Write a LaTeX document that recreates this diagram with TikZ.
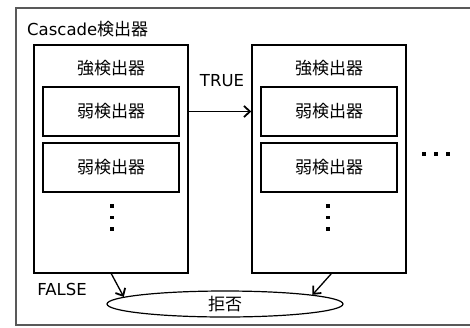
\documentclass[tikz,border=0pt]{standalone}
\usepackage{fontspec}
\setmainfont{DejaVu Sans}
\newfontfamily\jp{Noto Sans CJK JP}
\usetikzlibrary{arrows.meta,shapes.geometric}
\tikzset{
  txt/.style={font=\fontsize{16.5}{19}\selectfont},
  jtxt/.style={font=\fontsize{17}{20}\selectfont\jp},
  box/.style={draw=black, line width=1.4pt, rectangle, inner sep=0pt},
  strongbox/.style={box, minimum width=154pt, minimum height=228pt},
  weakbox/.style={box, minimum width=136pt, minimum height=49pt, jtxt},
  lbl/.style={inner sep=0pt, txt},
  jlbl/.style={inner sep=0pt, jtxt},
  vdot/.style={fill=black},
  conn/.style={draw=black, line width=1.3pt, -{Straight Barb[length=6pt,width=11pt,line width=1.8pt]}},
}
\begin{document}
\begin{tikzpicture}[x=1pt, y=-1pt]
  \useasboundingbox (0,0) rectangle (470,327);
  % outer cascade frame (runs off the right edge)
  \draw[line width=1.2pt, draw=black!65] (480,8) -- (16,8) -- (16,325) -- (480,325);
  \node[lbl, anchor=west] (title) at (27,29) {Cascade{\jp\fontsize{17}{20}\selectfont 検出器}};

  % first strong detector
  \node[strongbox] (s1) at (111,159) {};
  \node[jlbl] (s1t) at (111,68) {強検出器};
  \node[weakbox] (w11) at (111,111.5) {弱検出器};
  \node[weakbox] (w12) at (111,167.5) {弱検出器};
  \foreach \yy in {206,217.5,229} \fill[vdot] (112,\yy) ++(-1.7,-1.7) rectangle ++(3.4,3.4);

  % second strong detector
  \node[strongbox] (s2) at (329,159) {};
  \node[jlbl] (s2t) at (329,68) {強検出器};
  \node[weakbox] (w21) at (329,111.5) {弱検出器};
  \node[weakbox] (w22) at (329,167.5) {弱検出器};
  \foreach \yy in {206,217.5,229} \fill[vdot] (328,\yy) ++(-1.7,-1.7) rectangle ++(3.4,3.4);

  % further stages
  \foreach \xx in {424,436,448} \fill[vdot] (\xx,154) ++(-1.7,-1.7) rectangle ++(3.4,3.4);

  % reject
  \node[draw=black, line width=1.2pt, ellipse, minimum width=236pt, minimum height=26pt, inner sep=0pt,
        jtxt] (rej) at (225,304) {拒否};

  % connectors
  \draw[conn] (s1.east |- w11.east) -- (s2.west |- w11.west);
  \node[lbl] (true) at (222,81) {TRUE};
  \coordinate (f1) at ([xshift=78pt]s1.south west);
  \coordinate (f2) at ([xshift=80pt]s2.south west);
  \draw[conn] (f1) -- (rej.176);
  \draw[conn] (f2) -- (rej.6);
  \node[lbl] (false) at (62,289) {FALSE};
\end{tikzpicture}
\end{document}
